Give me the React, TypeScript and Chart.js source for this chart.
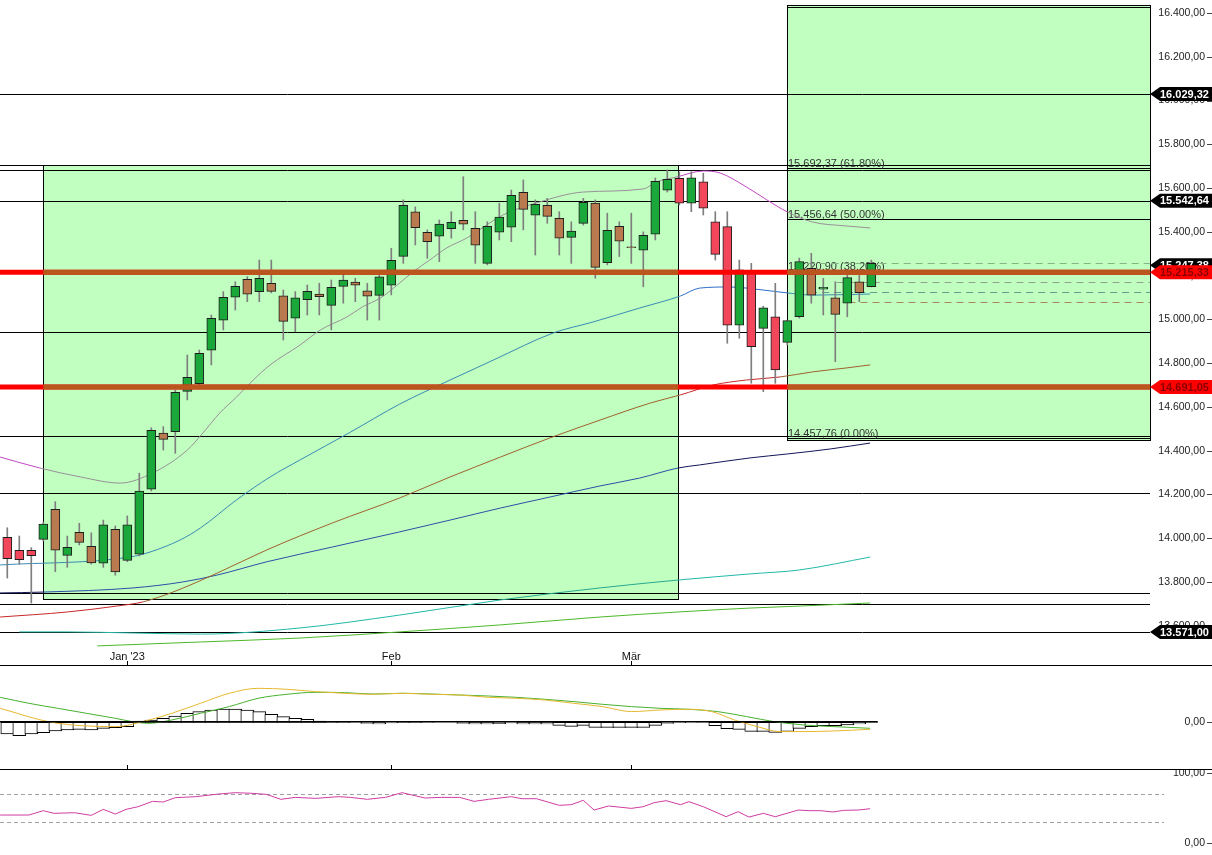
import React, { useEffect, useRef } from "react";
import { Chart, registerables } from "chart.js";

Chart.register(...registerables);

const FONT = "'Liberation Sans', Arial, sans-serif";
const W = 1212;
const MAIN_H = 666;
const MACD_H = 104;
const RSI_H = 85;
const AXIS_W = 62;

// ---------- candle data (Dec 16 2022 .. Mar 29 2023, one per trading day) ----------
const opens = [14004, 13945, 13945, 13995, 14132, 13922, 14027, 13963, 13886, 14041, 13899, 13927, 14224, 14481, 14487, 14671, 14706, 14859, 14996, 15101, 15183, 15127, 15165, 15108, 15005, 15090, 15116, 15064, 15151, 15171, 15130, 15110, 15156, 15288, 15492, 15398, 15380, 15414, 15453, 15416, 15256, 15398, 15421, 15581, 15476, 15521, 15462, 15375, 15439, 15531, 15259, 15425, 15331, 15316, 15389, 15590, 15645, 15531, 15629, 15446, 15424, 14974, 15221, 14959, 15012, 14895, 15012, 15233, 15138, 15099, 15074, 15172, 15149];
const highs = [14048, 14010, 13957, 14074, 14167, 14010, 14068, 14025, 14083, 14056, 14102, 14297, 14505, 14510, 14677, 14837, 14860, 15020, 15127, 15172, 15195, 15271, 15271, 15134, 15127, 15157, 15165, 15180, 15211, 15188, 15165, 15218, 15325, 15546, 15514, 15409, 15454, 15492, 15652, 15492, 15446, 15531, 15591, 15637, 15546, 15553, 15492, 15446, 15553, 15546, 15485, 15446, 15485, 15400, 15646, 15683, 15674, 15675, 15668, 15492, 15492, 15271, 15256, 15060, 15165, 14996, 15280, 15302, 15188, 15172, 15211, 15203, 15271];
const lows = [13818, 13882, 13704, 13987, 13847, 13867, 13969, 13882, 13867, 13831, 13893, 13919, 14216, 14403, 14388, 14632, 14700, 14792, 14952, 15043, 15081, 15081, 15121, 14906, 14944, 15020, 15020, 14952, 15074, 15081, 14997, 14997, 15112, 15256, 15340, 15279, 15264, 15371, 15409, 15256, 15249, 15363, 15355, 15409, 15294, 15439, 15294, 15256, 15431, 15188, 15249, 15287, 15256, 15149, 15363, 15582, 15523, 15492, 15477, 15271, 14891, 14914, 14708, 14670, 14708, 14883, 15006, 15074, 15020, 14807, 15012, 15081, 15148];
const closes = [13907, 13902, 13920, 14065, 13945, 13959, 13981, 13887, 14061, 13846, 14061, 14215, 14493, 14452, 14667, 14735, 14845, 15005, 15101, 15151, 15115, 15188, 15128, 14991, 15099, 15128, 15104, 15147, 15180, 15156, 15106, 15194, 15270, 15521, 15419, 15355, 15435, 15444, 15435, 15339, 15425, 15467, 15567, 15503, 15526, 15471, 15371, 15403, 15535, 15238, 15407, 15357, 15328, 15384, 15631, 15640, 15531, 15647, 15508, 15297, 14974, 15226, 14875, 15053, 14769, 14994, 15264, 15111, 15147, 15023, 15191, 15122, 15256];

// x-axis labels (candle index where the month starts)
const xTickIdx = [10, 32, 52];
const xTickLabels = ["Jan '23", "Feb", "Mär"];

// price axis ticks
const yTicks = [13600, 13800, 14000, 14200, 14400, 14600, 14800, 15000, 15200, 15400, 15600, 15800, 16000, 16200, 16400];

// moving averages: [candle index, value]
const ma1: [number, number][] = [[-0.6, 14371], [2.7, 14321], [6.1, 14280], [9.4, 14252], [12.1, 14298], [15, 14403], [16.3, 14481], [17.7, 14572], [19.1, 14645], [20.5, 14723], [21.9, 14792], [24.4, 14883], [26.1, 14952], [28.3, 15011], [29.6, 15057], [31.1, 15098], [32.5, 15157], [33.8, 15217], [35.2, 15271], [36.6, 15326], [38.3, 15372], [41.3, 15477], [44.1, 15532], [48, 15582], [53, 15596], [54.1, 15628], [55.8, 15651], [58, 15678], [59.4, 15669], [61.6, 15605], [63.3, 15546], [65, 15491], [67.1, 15445], [69.9, 15427], [71.9, 15418]];
const ma2: [number, number][] = [[-0.6, 13878], [10.2, 13914], [11.9, 13937], [14.4, 13992], [16.1, 14047], [19.1, 14175], [21.9, 14280], [24.4, 14358], [28.6, 14485], [32.7, 14613], [36.9, 14723], [40.5, 14814], [45.5, 14938], [48.8, 14988], [52.7, 15052], [56.1, 15107], [57.7, 15143], [60.2, 15148], [63, 15134], [65, 15121], [67.1, 15111], [71.9, 15116]];
const ma3: [number, number][] = [[-0.6, 13640], [5, 13663], [9.1, 13690], [11.3, 13709], [13.8, 13754], [17.5, 13841], [21.6, 13946], [27.1, 14070], [32.7, 14184], [36.9, 14280], [41.1, 14371], [45.2, 14458], [49.4, 14540], [53.6, 14618], [56.1, 14655], [58.8, 14700], [61.6, 14723], [64.4, 14737], [67.1, 14760], [69.9, 14778], [71.9, 14792]];
const ma4: [number, number][] = [[-0.6, 13750], [3, 13754], [10.5, 13773], [14.6, 13800], [17.5, 13832], [21.6, 13892], [27.1, 13960], [32.7, 14029], [36.9, 14083], [41.1, 14138], [45.2, 14188], [49.4, 14239], [52.7, 14275], [55.9, 14321], [57.7, 14335], [61.9, 14367], [65, 14385], [68.6, 14408], [71.9, 14435]];
const ma5: [number, number][] = [[1, 13572], [5, 13572], [10.5, 13567], [16.1, 13562], [24.4, 13590], [32.7, 13649], [41.1, 13718], [49.4, 13773], [55.9, 13809], [61.9, 13837], [66, 13855], [71.9, 13914]];
const ma6: [number, number][] = [[7.5, 13508], [16.1, 13526], [24.4, 13544], [32.7, 13572], [41.1, 13604], [49.4, 13640], [55.9, 13663], [61.9, 13681], [66, 13690], [71.9, 13704]];

// horizontal levels
const hLines = [16029.32, 15705, 15683, 15542.64, 14943, 14468, 14208, 13752, 13701, 13571];
const redLines = [15215.33, 14691.05];
const fibLevels = [16426, 15692.37, 15456.64, 15220.9, 14457.76];
const fibPcts = ["", "61.80%", "50.00%", "38.20%", "0.00%"];
const fibStartIdx = 65;
const dashLevels = [15259, 15171, 15125, 15078];
const dashStartIdx = [66.7, 69.1, 66.9, 70.1];
const dashColors = ["#86b486", "#8fa08f", "#5f9f90", "#a88a62"];
const tagValues = [16029.32, 15542.64, 15247.38, 15215.33, 14691.05, 13571.0];
const tagRed = [false, false, false, true, true, false];

// highlighted zones: index range and price range
const zoneFrom = [3, 65];
const zoneTo = [55.9, 999];
const zoneLow = [13722, 14449];
const zoneHigh = [15705, 16436];

// MACD panel
const macdHist = [-11.7, -13.3, -11.7, -10.3, -8.7, -7.7, -7, -7.7, -6, -5.3, -4.3, 1.3, 2.3, 4, 6.3, 9, 10.7, 12.3, 13.3, 13.3, 12.3, 10.7, 8, 5.7, 4, 3, 1.3, 1, 0.7, 0.3, -1, -1.7, -0.7, 1, 1, 0.3, 0, 0, -1, -1.7, -1.7, -1.3, -0.7, -1.7, -1.7, -1.7, -3, -4, -3, -5, -5, -5, -5, -5, -3, -1, -0.3, 0, 0.3, -3.3, -6.3, -7, -9, -9, -10, -9, -6, -4.3, -3.3, -3.3, -2.7, -1.7, 0.7];
const macdLine: [number, number][] = [[-0.6, 14], [3.7, 0], [9, -4.3], [11.8, 2.3], [13.7, 9], [16.1, 19], [18.5, 29], [20.9, 34], [23.3, 33], [25.7, 30.7], [28.1, 29], [30.5, 28], [32.9, 29], [35.3, 28], [37.7, 27.3], [40.1, 25], [42.4, 24], [44.8, 22.3], [47.2, 19], [49.6, 15.7], [52, 10.7], [54.4, 12.3], [56.8, 13], [58.7, 10.7], [60.6, 2.3], [62.5, -4.3], [64.4, -9.3], [66.4, -9.3], [68.8, -8.7], [71.9, -7]];
const signalLine: [number, number][] = [[-0.6, 25], [1.8, 19], [4.2, 14], [6.6, 9], [9, 4], [10.4, 0.7], [11.8, -1], [13.7, 2.3], [16.1, 9], [18.5, 15.7], [20.9, 24], [23.3, 28], [25.7, 30], [28.1, 29.7], [30.5, 28.3], [32.9, 29], [35.3, 28.3], [37.7, 27.3], [40.1, 26.3], [42.4, 25], [44.8, 23], [47.2, 20.7], [49.6, 18], [52, 15.7], [54.4, 14], [56.8, 13], [59.2, 10.7], [61.6, 5.7], [63.9, 0.7], [66.4, -2.7], [68.8, -4.3], [71.9, -6]];

// RSI panel
const rsi: [number, number][] = [[-0.6, 40], [1.8, 40], [3, 46.2], [3.9, 42.4], [5.6, 43.3], [7, 39.5], [8, 48.1], [9, 41.4], [9.9, 48.1], [10.9, 51.9], [12.1, 59.5], [13, 58.6], [14, 64.8], [15.7, 66.2], [17.6, 70], [19, 71.9], [20.4, 71], [21.6, 69.5], [22.8, 62.4], [24, 65.2], [25.7, 63.8], [27.6, 66.2], [28.6, 65.2], [30, 62.4], [31.5, 65.2], [32.9, 71.9], [34.8, 64.3], [36.2, 65.2], [37.7, 65.2], [38.9, 59.5], [40.1, 62.4], [42, 66.2], [42.9, 63.3], [44.1, 63.3], [46, 53.8], [47, 54.8], [48, 61], [48.9, 47.1], [50.1, 52.9], [52, 49.5], [53, 51.9], [53.9, 57.6], [54.9, 60.5], [56.1, 54.8], [56.8, 59], [58, 51.9], [59.9, 37.6], [60.9, 44.8], [61.8, 37.1], [63, 42.4], [64, 37.6], [65.9, 47.1], [66.9, 46.2], [67.8, 46.2], [68.8, 44.3], [69.7, 46.7], [70.9, 47.1], [71.9, 49]];
const rsiLevels = [70, 30];
const rsiTicks = [100, 0];

// ---------- scale ranges ----------
const X_MIN = -0.608;
const X_MAX = X_MIN + (W - AXIS_W) / 12;
const Y_MAX = 16459.4;
const Y_MIN = 13416.2;
const MACD_MAX = 56.3;
const MACD_MIN = -47.7;
const RSI_MAX = 104.3;
const RSI_MIN = -17.1;

const BULL = "#1aa83a";
const BEAR_OUT = "#f2465a";
const BEAR_IN = "#b87a4e";
const ZONE_FILL = "#c0ffc0";

function fmt(v: number): string {
  const s = Math.abs(v).toFixed(2);
  const [a, b] = s.split(".");
  const withDots = a.replace(/\B(?=(\d{3})+(?!\d))/g, ".");
  return (v < 0 ? "-" : "") + withDots + "," + b;
}

function inZone(i: number, v: number): boolean {
  for (let k = 0; k < zoneFrom.length; k++) {
    if (i >= zoneFrom[k] && i <= zoneTo[k] && v >= zoneLow[k] && v <= zoneHigh[k]) return true;
  }
  return false;
}

function segColor(points: [number, number][], cin: string, cout: string) {
  return (ctx: any) => {
    const a = points[ctx.p0DataIndex];
    const b = points[ctx.p1DataIndex];
    if (!a || !b) return cout;
    return inZone((a[0] + b[0]) / 2, (a[1] + b[1]) / 2) ? cin : cout;
  };
}

function maDataset(points: [number, number][], cout: string, cin: string) {
  return {
    type: "line" as const,
    data: points.map(([x, y]) => ({ x, y })),
    borderColor: cout,
    borderWidth: 1,
    pointRadius: 0,
    cubicInterpolationMode: "monotone" as const,
    segment: { borderColor: segColor(points, cin, cout) },
    order: 2,
  };
}

function drawYLabel(ctx: CanvasRenderingContext2D, py: number, text: string) {
  ctx.font = `10.5px ${FONT}`;
  ctx.fillStyle = "#222";
  ctx.textAlign = "right";
  ctx.textBaseline = "middle";
  ctx.fillText(text, 1205, py);
  ctx.strokeStyle = "#444";
  ctx.lineWidth = 1;
  ctx.beginPath();
  ctx.moveTo(1207, Math.round(py) + 0.5);
  ctx.lineTo(1212, Math.round(py) + 0.5);
  ctx.stroke();
}

function drawBottomBorder(chart: any) {
  const { ctx, scales } = chart;
  const h = chart.height;
  ctx.save();
  ctx.strokeStyle = "#000";
  ctx.lineWidth = 1;
  ctx.beginPath();
  ctx.moveTo(0, h - 0.5);
  ctx.lineTo(chart.width, h - 0.5);
  ctx.stroke();
  xTickIdx.forEach((idx) => {
    const px = Math.round(scales.x.getPixelForValue(idx)) + 0.5;
    ctx.beginPath();
    ctx.moveTo(px, h - 5);
    ctx.lineTo(px, h);
    ctx.stroke();
  });
  ctx.restore();
}

const mainDecor = {
  id: "mainDecor",
  beforeDatasetsDraw(chart: any) {
    const { ctx, chartArea: a, scales } = chart;
    const x = scales.x;
    const y = scales.y;
    ctx.save();
    // zones
    for (let k = 0; k < zoneFrom.length; k++) {
      const x0 = Math.round(x.getPixelForValue(zoneFrom[k]));
      const x1 = Math.round(Math.min(x.getPixelForValue(zoneTo[k]), a.right));
      const y0 = Math.round(y.getPixelForValue(zoneHigh[k]));
      const y1 = Math.round(y.getPixelForValue(zoneLow[k]));
      ctx.fillStyle = ZONE_FILL;
      ctx.fillRect(x0, y0, x1 - x0, y1 - y0);
      ctx.strokeStyle = "#000";
      ctx.lineWidth = 1;
      ctx.strokeRect(x0 + 0.5, y0 + 0.5, x1 - x0, y1 - y0);
    }
    // full width horizontal lines
    ctx.strokeStyle = "#000";
    ctx.lineWidth = 1;
    hLines.forEach((v) => {
      const py = Math.round(y.getPixelForValue(v)) + 0.5;
      ctx.beginPath();
      ctx.moveTo(a.left, py);
      ctx.lineTo(a.right, py);
      ctx.stroke();
    });
    // fibonacci levels
    const fx = Math.round(x.getPixelForValue(fibStartIdx));
    fibLevels.forEach((v, k) => {
      const py = Math.round(y.getPixelForValue(v)) + 0.5;
      ctx.strokeStyle = "#000";
      ctx.beginPath();
      ctx.moveTo(fx, py);
      ctx.lineTo(a.right, py);
      ctx.stroke();
      if (!fibPcts[k]) return;
      ctx.font = `11px ${FONT}`;
      ctx.fillStyle = "#333";
      ctx.textAlign = "left";
      ctx.textBaseline = "alphabetic";
      ctx.fillText(`${fmt(v)} (${fibPcts[k]})`, fx + 1, py - 2);
    });
    // dashed levels
    ctx.setLineDash([7, 5]);
    dashLevels.forEach((v, k) => {
      const py = Math.round(y.getPixelForValue(v)) + 0.5;
      ctx.strokeStyle = dashColors[k];
      ctx.beginPath();
      ctx.moveTo(x.getPixelForValue(dashStartIdx[k]), py);
      ctx.lineTo(a.right, py);
      ctx.stroke();
    });
    ctx.setLineDash([]);
    ctx.restore();
  },
  afterDatasetsDraw(chart: any) {
    const { ctx, chartArea: a, scales } = chart;
    const x = scales.x;
    const y = scales.y;
    ctx.save();
    redLines.forEach((v) => {
      const py = y.getPixelForValue(v);
      ctx.lineWidth = 5;
      ctx.strokeStyle = "#ff0000";
      ctx.beginPath();
      ctx.moveTo(a.left, py);
      ctx.lineTo(a.right, py);
      ctx.stroke();
      for (let k = 0; k < zoneFrom.length; k++) {
        if (v < zoneLow[k] || v > zoneHigh[k]) continue;
        const x0 = x.getPixelForValue(zoneFrom[k]);
        const x1 = Math.min(x.getPixelForValue(zoneTo[k]), a.right);
        ctx.strokeStyle = "#b8561e";
        ctx.beginPath();
        ctx.moveTo(x0, py);
        ctx.lineTo(x1, py);
        ctx.stroke();
      }
    });
    ctx.restore();
  },
  afterDraw(chart: any) {
    const { ctx, chartArea: a, scales } = chart;
    const x = scales.x;
    const y = scales.y;
    ctx.save();
    // price labels
    yTicks.forEach((t) => drawYLabel(ctx, y.getPixelForValue(t), fmt(t)));
    // price tags
    tagValues.forEach((v, k) => {
      const py = y.getPixelForValue(v);
      ctx.fillStyle = tagRed[k] ? "#ff0000" : "#000";
      ctx.beginPath();
      ctx.moveTo(a.right, py);
      ctx.lineTo(a.right + 10, py - 7);
      ctx.lineTo(chart.width, py - 7);
      ctx.lineTo(chart.width, py + 7);
      ctx.lineTo(a.right + 10, py + 7);
      ctx.closePath();
      ctx.fill();
      ctx.font = `bold 11px ${FONT}`;
      ctx.fillStyle = tagRed[k] ? "#8a0000" : "#fff";
      ctx.textAlign = "left";
      ctx.textBaseline = "middle";
      ctx.fillText(fmt(v), a.right + 10, py + 0.5);
    });
    // month labels
    ctx.font = `11px ${FONT}`;
    ctx.fillStyle = "#111";
    ctx.textAlign = "center";
    ctx.textBaseline = "middle";
    xTickIdx.forEach((idx, k) => {
      ctx.fillText(xTickLabels[k], x.getPixelForValue(idx), chart.height - 9);
    });
    ctx.restore();
    drawBottomBorder(chart);
  },
};

const macdDecor = {
  id: "macdDecor",
  afterDraw(chart: any) {
    const { ctx, chartArea: a, scales } = chart;
    ctx.save();
    const y0 = scales.y.getPixelForValue(0);
    ctx.fillStyle = "#000";
    ctx.fillRect(a.left, Math.round(y0) - 1, scales.x.getPixelForValue(macdHist.length - 0.5) - a.left, 1.5);
    drawYLabel(ctx, y0, fmt(0));
    ctx.restore();
    drawBottomBorder(chart);
  },
};

const rsiDecor = {
  id: "rsiDecor",
  beforeDatasetsDraw(chart: any) {
    const { ctx, chartArea: a, scales } = chart;
    ctx.save();
    ctx.strokeStyle = "#a0a0a0";
    ctx.lineWidth = 1;
    ctx.setLineDash([4, 3]);
    rsiLevels.forEach((v) => {
      const py = Math.round(scales.y.getPixelForValue(v)) + 0.5;
      ctx.beginPath();
      ctx.moveTo(a.left, py);
      ctx.lineTo(a.right + 14, py);
      ctx.stroke();
    });
    ctx.restore();
  },
  afterDraw(chart: any) {
    const { ctx, scales } = chart;
    ctx.save();
    rsiTicks.forEach((t) => drawYLabel(ctx, scales.y.getPixelForValue(t), fmt(t)));
    ctx.restore();
  },
};

function baseOptions(yMin: number, yMax: number): any {
  return {
    animation: false,
    responsive: false,
    maintainAspectRatio: false,
    events: [],
    layout: { padding: { left: 0, right: AXIS_W, top: 0, bottom: 0 } },
    plugins: { legend: { display: false }, tooltip: { enabled: false }, title: { display: false } },
    scales: {
      x: { type: "linear", min: X_MIN, max: X_MAX, display: false, offset: false },
      y: { type: "linear", min: yMin, max: yMax, display: false },
    },
  };
}

export default function App() {
  const mainRef = useRef<HTMLCanvasElement>(null);
  const macdRef = useRef<HTMLCanvasElement>(null);
  const rsiRef = useRef<HTMLCanvasElement>(null);

  useEffect(() => {
    document.body.style.margin = "0";
    const charts: Chart[] = [];

    const bodyData = opens.map((o, i) => ({ x: i, y: [o, closes[i]] }));
    const wickData = opens.map((_, i) => ({ x: i, y: [lows[i], highs[i]] }));

    charts.push(
      new Chart(mainRef.current as HTMLCanvasElement, {
        type: "bar",
        data: {
          datasets: [
            {
              type: "bar",
              data: bodyData as any,
              barThickness: 9,
              grouped: false,
              borderWidth: 1,
              borderColor: "#1e1e1e",
              borderSkipped: false,
              backgroundColor: (ctx: any) => {
                const i = ctx.dataIndex;
                if (i === undefined) return BULL;
                const o = opens[i];
                const c = closes[i];
                if (c >= o) return BULL;
                return inZone(i, (o + c) / 2) ? BEAR_IN : BEAR_OUT;
              },
              order: 0,
            } as any,
            {
              type: "bar",
              data: wickData as any,
              barThickness: 1,
              grouped: false,
              borderWidth: 0,
              backgroundColor: "#7e7e7e",
              order: 1,
            } as any,
            maDataset(ma1, "#c048c0", "#9a8f9a"),
            maDataset(ma2, "#2e6ec8", "#3a8cb4"),
            maDataset(ma3, "#c82828", "#a0622e"),
            maDataset(ma4, "#14145a", "#2e4ea8"),
            maDataset(ma5, "#22b8a8", "#2aa890"),
            maDataset(ma6, "#4cb828", "#4cb828"),
          ] as any,
        },
        options: baseOptions(Y_MIN, Y_MAX),
        plugins: [mainDecor],
      } as any)
    );

    charts.push(
      new Chart(macdRef.current as HTMLCanvasElement, {
        type: "bar",
        data: {
          datasets: [
            {
              type: "bar",
              data: macdHist.map((v, i) => ({ x: i, y: [0, v] })) as any,
              barThickness: 13,
              grouped: false,
              borderWidth: 1,
              borderColor: "#000",
              borderSkipped: false,
              backgroundColor: "#ffffff",
              order: 1,
            } as any,
            {
              type: "line",
              data: macdLine.map(([x, y]) => ({ x, y })),
              borderColor: "#e6b830",
              borderWidth: 1,
              pointRadius: 0,
              cubicInterpolationMode: "monotone",
              order: 0,
            },
            {
              type: "line",
              data: signalLine.map(([x, y]) => ({ x, y })),
              borderColor: "#48b030",
              borderWidth: 1,
              pointRadius: 0,
              cubicInterpolationMode: "monotone",
              order: 0,
            },
          ] as any,
        },
        options: baseOptions(MACD_MIN, MACD_MAX),
        plugins: [macdDecor],
      } as any)
    );

    charts.push(
      new Chart(rsiRef.current as HTMLCanvasElement, {
        type: "line",
        data: {
          datasets: [
            {
              data: rsi.map(([x, y]) => ({ x, y })),
              borderColor: "#d03ca0",
              borderWidth: 1,
              pointRadius: 0,
              tension: 0,
            },
          ],
        },
        options: baseOptions(RSI_MIN, RSI_MAX),
        plugins: [rsiDecor],
      } as any)
    );

    return () => charts.forEach((c) => c.destroy());
  }, []);

  return (
    <div style={{ width: W, background: "#fff" }}>
      <canvas ref={mainRef} width={W} height={MAIN_H} style={{ display: "block" }} />
      <canvas ref={macdRef} width={W} height={MACD_H} style={{ display: "block" }} />
      <canvas ref={rsiRef} width={W} height={RSI_H} style={{ display: "block" }} />
    </div>
  );
}
